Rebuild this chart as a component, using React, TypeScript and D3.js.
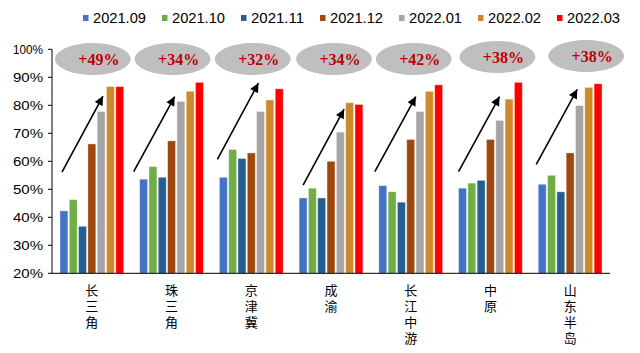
import React, { useEffect, useRef } from "react";
import * as d3 from "d3";

const categories = ["长三角", "珠三角", "京津冀", "成渝", "长江中游", "中原", "山东半岛"];
const periods = ["2021.09", "2021.10", "2021.11", "2021.12", "2022.01", "2022.02", "2022.03"];

// share of value, % by region
const s2109 = [42.3, 53.6, 54.3, 46.9, 51.3, 50.4, 51.8];
const s2110 = [46.3, 58.1, 64.2, 50.4, 49.1, 52.2, 55.0];
const s2111 = [36.8, 54.3, 61.0, 46.9, 45.4, 53.2, 49.1];
const s2112 = [66.2, 67.3, 63.0, 60.0, 67.8, 67.8, 63.0];
const s2201 = [77.8, 81.4, 77.8, 70.4, 77.8, 74.6, 79.9];
const s2202 = [86.7, 85.0, 81.9, 80.9, 85.0, 82.2, 86.4];
const s2203 = [86.7, 88.2, 85.9, 80.3, 87.3, 88.2, 87.7];
const series = [s2109, s2110, s2111, s2112, s2201, s2202, s2203];

const growth = ["+49%", "+34%", "+32%", "+34%", "+42%", "+38%", "+38%"];
// arrow start / end, in % on the y axis
const arrowFrom = [56.1, 56.3, 60.7, 51.5, 56.3, 56.3, 58.9];
const arrowTo = [83.3, 83.1, 87.9, 78.6, 83.1, 83.1, 85.7];

const yTicks = [20, 30, 40, 50, 60, 70, 80, 90, 100];

const colors = ["#4472c4", "#70ad47", "#255e91", "#9e480e", "#a5a5a5", "#cc8a2b", "#ff0000"];

// hand-placed annotation nudges
const bubbleDx = [1, 1, 1.5, 3, 3, 7, 16];
const bubbleDy = [0, 0, 0, 0, 0, -2, -3];
const arrowDx = [2, -6, -2, 4, -4, 0, -2];

const W = 640;
const H = 353;

export default function App() {
  const svgRef = useRef<SVGSVGElement>(null);

  useEffect(() => {
    document.body.style.margin = "0";
    const svg = d3.select(svgRef.current);
    svg.selectAll("*").remove();

    const left = 52, right = 610, top = 49.3, bottom = 273.3;

    //scales
    const x0 = d3.scaleBand().domain(categories).range([left, right]).paddingInner(0.2).paddingOuter(0.1);
    const x1 = d3.scaleBand().domain(periods).range([0, x0.bandwidth()]).paddingInner(0.15);
    const y = d3.scaleLinear().domain([20, 100]).range([bottom, top]);

    const defs = svg.append("defs");
    defs
      .append("marker")
      .attr("id", "arrowhead")
      .attr("markerUnits", "userSpaceOnUse")
      .attr("viewBox", "0 0 10 10")
      .attr("refX", 10)
      .attr("refY", 5)
      .attr("markerWidth", 10)
      .attr("markerHeight", 9)
      .attr("orient", "auto")
      .append("path")
      .attr("d", "M0,0 L10,5 L0,10 Z")
      .attr("fill", "#000");

    //legend
    const legend = svg
      .append("g")
      .selectAll("g")
      .data(periods)
      .enter()
      .append("g")
      .attr("transform", (d, i) => `translate(${83 + i * 79},18)`);
    legend
      .append("rect")
      .attr("x", 0)
      .attr("y", -3)
      .attr("width", 5.5)
      .attr("height", 6)
      .attr("fill", (d, i) => colors[i]);
    legend
      .append("text")
      .attr("x", 10)
      .attr("y", 5)
      .attr("font-family", "'Liberation Sans', Arial, sans-serif")
      .attr("font-size", 14)
      .attr("textLength", 53)
      .attr("lengthAdjust", "spacingAndGlyphs")
      .attr("fill", "#000")
      .text(d => d);

    //bars
    const groups = svg
      .append("g")
      .selectAll("g")
      .data(categories)
      .enter()
      .append("g")
      .attr("transform", d => `translate(${x0(d)},0)`);

    groups
      .selectAll("rect")
      .data((d, ci) => periods.map((p, si) => ({ p, si, v: series[si][ci] })))
      .enter()
      .append("rect")
      .attr("x", d => x1(d.p)!)
      .attr("y", d => y(d.v))
      .attr("width", x1.bandwidth())
      .attr("height", d => bottom - y(d.v))
      .attr("fill", d => colors[d.si])
      .attr("stroke", "rgba(255,255,255,0.45)")
      .attr("stroke-width", 0.8);

    //axes
    const axis = svg.append("g").attr("stroke", "#000").attr("stroke-width", 1);
    axis.append("line").attr("x1", left).attr("x2", left).attr("y1", top).attr("y2", bottom);
    axis.append("line").attr("x1", left).attr("x2", right).attr("y1", bottom).attr("y2", bottom);
    axis
      .selectAll("line.tick")
      .data(yTicks)
      .enter()
      .append("line")
      .attr("class", "tick")
      .attr("x1", left - 4)
      .attr("x2", left)
      .attr("y1", d => y(d))
      .attr("y2", d => y(d));

    svg
      .append("g")
      .selectAll("text")
      .data(yTicks)
      .enter()
      .append("text")
      .attr("x", 43)
      .attr("y", d => y(d))
      .attr("dy", "0.35em")
      .attr("text-anchor", "end")
      .attr("font-family", "'Liberation Sans', Arial, sans-serif")
      .attr("font-size", 12.5)
      .attr("textLength", 30)
      .attr("lengthAdjust", "spacingAndGlyphs")
      .attr("fill", "#000")
      .text(d => `${d}%`);

    //category labels, written top to bottom
    svg
      .append("g")
      .selectAll("text")
      .data(categories)
      .enter()
      .append("text")
      .attr("x", d => x0(d)! + x0.bandwidth() / 2)
      .attr("y", 284)
      .style("writing-mode", "vertical-rl")
      .style("letter-spacing", "3px")
      .attr("font-family", "'Noto Sans CJK SC', sans-serif")
      .attr("font-size", 13)
      .attr("fill", "#000")
      .text(d => d);

    //arrows
    svg
      .append("g")
      .selectAll("line")
      .data(categories)
      .enter()
      .append("line")
      .attr("x1", (d, i) => x0(d)! + arrowDx[i])
      .attr("x2", (d, i) => x0(d)! + arrowDx[i] + 41)
      .attr("y1", (d, i) => y(arrowFrom[i]))
      .attr("y2", (d, i) => y(arrowTo[i]))
      .attr("stroke", "#000")
      .attr("stroke-width", 1.6)
      .attr("marker-end", "url(#arrowhead)");

    //growth bubbles
    const bubbles = svg
      .append("g")
      .selectAll("g")
      .data(categories)
      .enter()
      .append("g")
      .attr("transform", (d, i) => `translate(${x0(d)! + x0.bandwidth() / 2 + bubbleDx[i]},${59 + bubbleDy[i]})`);
    bubbles.append("ellipse").attr("rx", 38).attr("ry", 16).attr("fill", "#bfbfbf");
    bubbles
      .append("text")
      .attr("x", 6)
      .attr("y", 6)
      .attr("text-anchor", "middle")
      .attr("font-family", "'Liberation Serif', 'Times New Roman', serif")
      .attr("font-weight", "bold")
      .attr("font-size", 16)
      .attr("fill", "#c00000")
      .text((d, i) => growth[i]);
  }, []);

  return <svg ref={svgRef} width={W} height={H} style={{ display: "block" }} />;
}
